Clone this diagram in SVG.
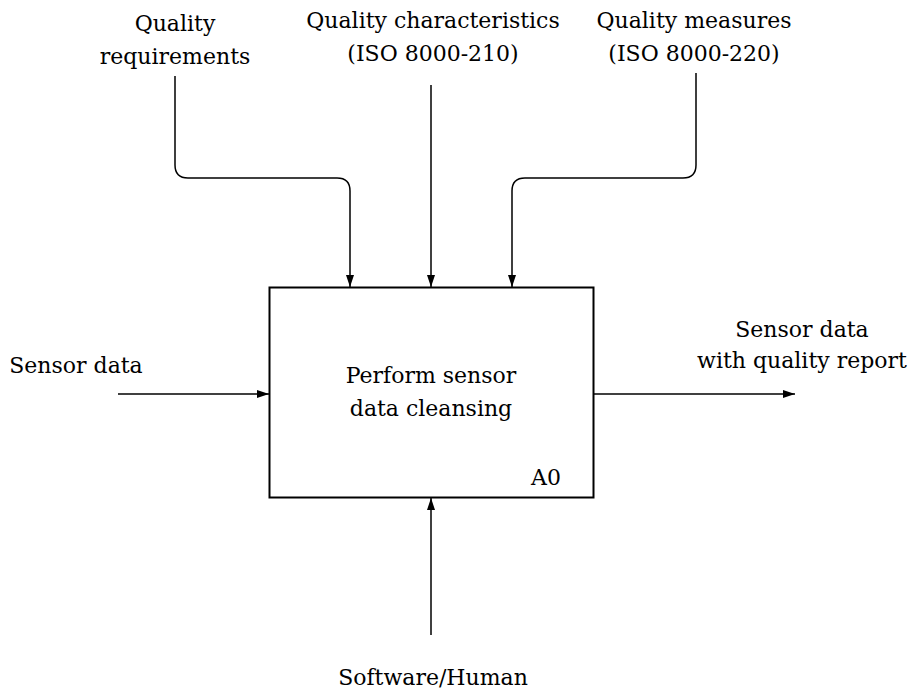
<svg xmlns="http://www.w3.org/2000/svg" width="912" height="695" viewBox="0 0 912 695">
<defs>
<marker id="ah" viewBox="0 0 12 8" refX="12" refY="4" markerWidth="12" markerHeight="8" markerUnits="userSpaceOnUse" orient="auto">
<path d="M0,0 L12,4 L0,8 z" fill="#000"/>
</marker>
<style>
text{font-family:"DejaVu Serif","Liberation Serif",serif;font-size:22px;fill:#000;text-anchor:middle}
.c{fill:none;stroke:#000;stroke-width:1.5;marker-end:url(#ah)}
</style>
</defs>
<rect width="912" height="695" fill="#fff"/>
<g id="box">
<rect x="269.5" y="287.5" width="324" height="210" fill="#fff" stroke="#000" stroke-width="2"/>
<text x="431" y="383">Perform sensor</text>
<text x="431" y="416">data cleansing</text>
<text x="561" y="485" style="text-anchor:end">A0</text>
</g>
<g id="labels">
<g id="qreq"><text x="175" y="31">Quality</text><text x="175" y="64">requirements</text></g>
<g id="qchar"><text x="433" y="28">Quality characteristics</text><text x="433" y="61">(ISO 8000-210)</text></g>
<g id="qmeas"><text x="694" y="28">Quality measures</text><text x="694" y="61">(ISO 8000-220)</text></g>
<g id="sin"><text x="76" y="373">Sensor data</text></g>
<g id="sout"><text x="802" y="337">Sensor data</text><text x="802" y="368">with quality report</text></g>
<g id="mech"><text x="433" y="685">Software/Human</text></g>
</g>
<g id="connectors">
<path class="c" d="M175,76 V165 Q175,178 188,178 H337 Q350,178 350,191 V287"/>
<path class="c" d="M431,85 V287"/>
<path class="c" d="M696,73 V165 Q696,178 683,178 H525 Q512,178 512,191 V287"/>
<path class="c" d="M118,394 H269"/>
<path class="c" d="M594,394 H795"/>
<path class="c" d="M431,635 V498"/>
</g>
</svg>
